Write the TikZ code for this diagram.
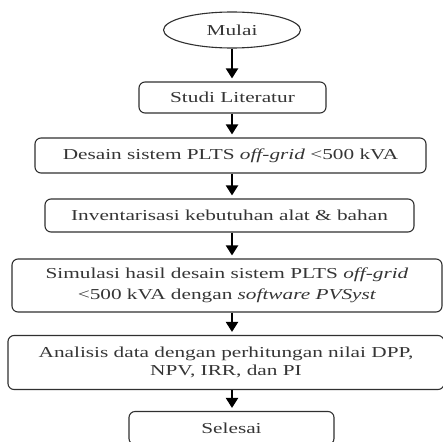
\documentclass[tikz,border=0pt]{standalone}
\usepackage{fontspec}
\setmainfont{Liberation Serif}[FakeStretch=1.4]
\usetikzlibrary{shapes.geometric,arrows.meta}
\definecolor{linec}{HTML}{303030}
\definecolor{textc}{HTML}{353535}
\begin{document}
\begin{tikzpicture}[x=1pt,y=-1pt,
  box/.style={draw=linec, line width=1.1pt, rounded corners=6pt, inner sep=0pt, align=center, text=textc, font=\fontsize{15.2}{19}\selectfont},
  startbox/.style={ellipse, draw=linec, line width=1.1pt, inner sep=0pt, text=textc, font=\fontsize{15.2}{19}\selectfont},
  arr/.style={line width=2pt, draw=black, -{Triangle[width=12pt,length=10pt]}, shorten >=3pt}]
\useasboundingbox (0,0) rectangle (443,441);
\clip (0,0) rectangle (443,441);
\coordinate (ax) at (232,0);
\node[startbox, minimum width=137pt, minimum height=36pt] (mulai) at (232,30) {Mulai};
\node[box, minimum width=187pt, minimum height=31pt] (studi) at (232.5,97.5) {Studi Literatur};
\node[box, minimum width=391pt, minimum height=35pt] (desain) at (230.5,155.5) {Desain sistem PLTS \textit{off-grid} <500 kVA};
\node[box, minimum width=369pt, minimum height=33pt] (inv) at (229.5,215.5) {Inventarisasi kebutuhan alat \& bahan};
\node[box, minimum width=430pt, minimum height=53pt, font=\fontsize{15.2}{21}\selectfont] (sim) at (227,285.5) {Simulasi hasil desain sistem PLTS \textit{off-grid}\\<500 kVA dengan \textit{software PVSyst}};
\node[box, minimum width=436pt, minimum height=54pt, font=\fontsize{15.2}{18}\selectfont] (ana) at (226,362.5) {Analisis data dengan perhitungan nilai DPP,\\NPV, IRR, dan PI};
\node[box, minimum width=205pt, minimum height=33pt] (sel) at (231.5,428) {Selesai};
\draw[arr] (mulai.south -| ax) -- (studi.north -| ax);
\draw[arr] (studi.south -| ax) -- (desain.north -| ax);
\draw[arr] (desain.south -| ax) -- (inv.north -| ax);
\draw[arr] (inv.south -| ax) -- (sim.north -| ax);
\draw[arr] (sim.south -| ax) -- (ana.north -| ax);
\draw[arr] (ana.south -| ax) -- (sel.north -| ax);
\end{tikzpicture}
\end{document}
